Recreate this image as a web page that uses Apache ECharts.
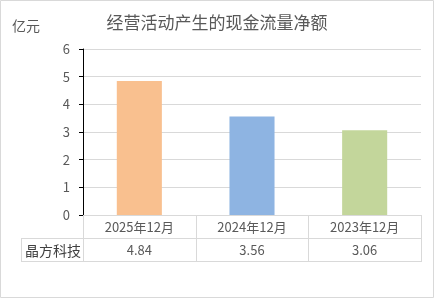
<!DOCTYPE html>
<html><head><meta charset="utf-8">
<script src="https://cdn.jsdelivr.net/npm/echarts@6/dist/echarts.min.js"></script>
<style>html,body{margin:0;padding:0;background:#fff}#c{width:434px;height:298px}</style>
</head><body><div id="c"></div>
<script>
const titleText = '经营活动产生的现金流量净额';
const unitLabel = '亿元';
const categories = ['2025年12月', '2024年12月', '2023年12月'];
const seriesName = '晶方科技';
const values = [4.84, 3.56, 3.06];
const barColors = ['#F9C08F', '#8EB4E2', '#C3D69B'];

const FONT = '"Noto Sans CJK SC", "Noto Sans", sans-serif';
const GRAY = '#595959';
const LINE = '#d9d9d9';

const chart = echarts.init(document.getElementById('c'), null, {renderer: 'canvas'});
const gridL = 83, gridR = 13, gridT = 49, gridB = 83;
chart.setOption({
  animation: false,
  textStyle: {fontFamily: FONT},
  title: {text: titleText, left: 'center', top: 9,
    textStyle: {fontSize: 17, fontWeight: 'normal', color: GRAY, fontFamily: FONT}},
  grid: {left: gridL, right: gridR, top: gridT, bottom: gridB, containLabel: false},
  xAxis: {type: 'category', data: categories,
    axisLine: {lineStyle: {color: LINE, width: 1}},
    axisTick: {show: false}, axisLabel: {show: false}},
  yAxis: {type: 'value', min: 0, max: 6, interval: 1,
    axisLine: {show: true, lineStyle: {color: '#000', width: 1}},
    axisTick: {show: true, length: 4, lineStyle: {color: '#000'}},
    axisLabel: {color: GRAY, fontSize: 13, margin: 13, fontFamily: FONT},
    splitLine: {lineStyle: {color: LINE, width: 1}}},
  series: [{type: 'bar', name: seriesName, barWidth: '40%',
    data: values.map((v, i) => ({value: v, itemStyle: {color: barColors[i]}}))}]
});

// table below the plot
const W = 434, H = 298;
const x0 = gridL, x1 = W - gridR, yTop = H - gridB;
const bw = (x1 - x0) / categories.length;
const row1 = yTop + 23, row2 = row1 + 23;
const tableLeft = 21;
const g = [];
g.push({type: 'rect', shape: {x: 0.5, y: 0.5, width: W - 1, height: H - 1}, style: {fill: null, stroke: LINE, lineWidth: 1}, silent: true});
g.push({type: 'text', left: 12, top: 19, style: {text: unitLabel, fontSize: 14, fill: GRAY, fontFamily: FONT}});
function hline(xa, xb, y) { g.push({type: 'line', shape: {x1: xa, y1: y + 0.5, x2: xb, y2: y + 0.5}, style: {stroke: LINE, lineWidth: 1}, silent: true}); }
function vline(x, ya, yb) { g.push({type: 'line', shape: {x1: x + 0.5, y1: ya, x2: x + 0.5, y2: yb}, style: {stroke: LINE, lineWidth: 1}, silent: true}); }
hline(x0, x1, row1);
hline(tableLeft, x1, row1);
hline(tableLeft, x1, row2);
vline(tableLeft, row1, row2 + 1);
vline(x0, yTop + 1, row2 + 1);
categories.forEach((c, i) => {
  const cx = chart.convertToPixel({xAxisIndex: 0}, i);
  vline(Math.round(cx + bw / 2), yTop, row2 + 1);
  g.push({type: 'text', x: cx, y: (yTop + row1) / 2 + 1, style: {text: c, fontSize: 13, fill: GRAY, fontFamily: FONT, align: 'center', verticalAlign: 'middle'}});
  g.push({type: 'text', x: cx, y: (row1 + row2) / 2 + 1, style: {text: values[i].toFixed(2), fontSize: 13, fill: GRAY, fontFamily: FONT, align: 'center', verticalAlign: 'middle'}});
});
g.push({type: 'text', x: (tableLeft + x0) / 2 + 1, y: (row1 + row2) / 2 + 1, style: {text: seriesName, fontSize: 14, fill: '#404040', fontFamily: FONT, align: 'center', verticalAlign: 'middle'}});
chart.setOption({graphic: g});
</script>
</body></html>
